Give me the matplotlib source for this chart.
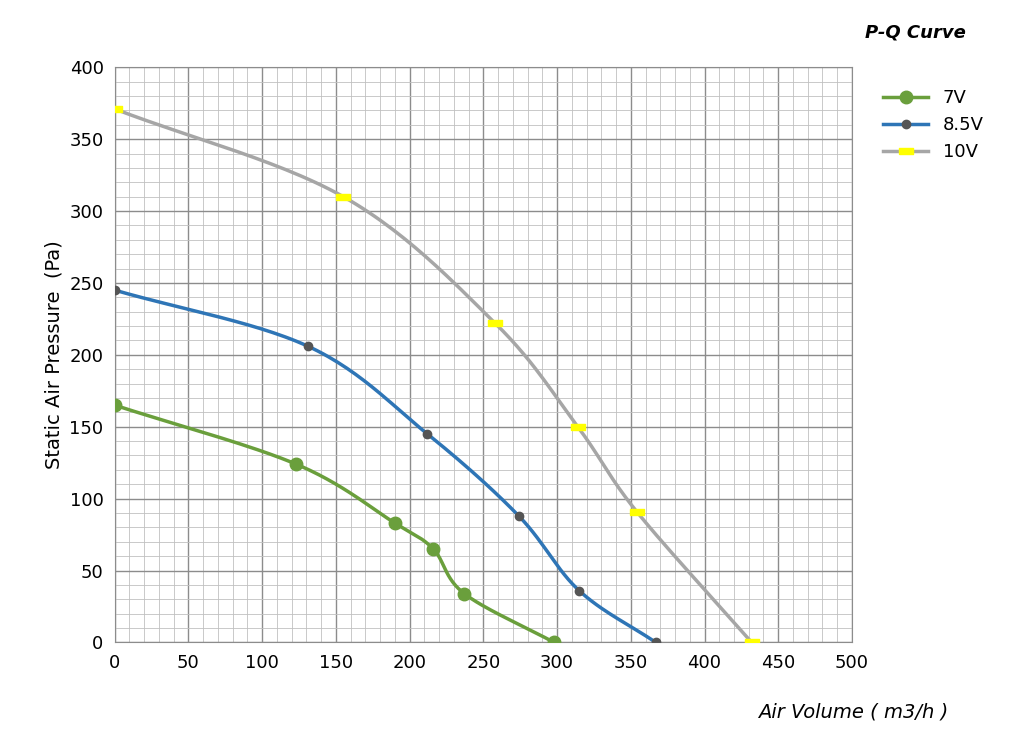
import numpy as np
import matplotlib
matplotlib.use('Agg')
import matplotlib.pyplot as plt
from matplotlib.ticker import MultipleLocator

q7 = [0, 123, 190, 216, 237, 298]
p7 = [165, 124, 83, 65, 34, 0]
q85 = [0, 131, 212, 274, 315, 367]
p85 = [245, 206, 145, 88, 36, 0]
q10 = [0, 155, 258, 314, 354, 432]
p10 = [371, 310, 222, 150, 91, 0]

def smooth(x, y, n=30):
    # catmull-rom through the points
    pts = np.column_stack([x, y]).astype(float)
    pts = np.vstack([2*pts[0]-pts[1], pts, 2*pts[-1]-pts[-2]])
    out = []
    t = np.linspace(0, 1, n)[:, None]
    for i in range(1, len(pts)-2):
        p0, p1, p2, p3 = pts[i-1], pts[i], pts[i+1], pts[i+2]
        out.append(0.5*((2*p1) + (-p0+p2)*t + (2*p0-5*p1+4*p2-p3)*t**2
                        + (-p0+3*p1-3*p2+p3)*t**3))
    out = np.vstack(out)
    return out[:, 0], out[:, 1]

rect = [(-1.6, -0.7), (1.6, -0.7), (1.6, 0.7), (-1.6, 0.7), (-1.6, -0.7)]

fig = plt.figure(figsize=(10.24, 7.47), dpi=100)
ax = fig.add_axes([0.112, 0.14, 0.72, 0.77])

series = [(q7, p7, '7V', '#6a9f3c', dict(marker='o', ms=9, mfc='#6a9f3c', mec='#6a9f3c')),
          (q85, p85, '8.5V', '#2e75b6', dict(marker='o', ms=6, mfc='#555555', mec='#555555')),
          (q10, p10, '10V', '#a6a6a6', dict(marker=rect, ms=10, mfc='#ffff00', mec='#ffff00'))]
for x, y, lab, c, mk in series:
    sx, sy = smooth(x, y)
    ax.plot(sx, sy, color=c, lw=2.5, zorder=3)
    ax.plot(x, y, ls='none', zorder=4, **mk)
    ax.plot([], [], color=c, lw=2.5, label=lab, **mk)

ax.set_xlim(0, 500)
ax.set_ylim(0, 400)
ax.xaxis.set_major_locator(MultipleLocator(50))
ax.yaxis.set_major_locator(MultipleLocator(50))
ax.xaxis.set_minor_locator(MultipleLocator(10))
ax.yaxis.set_minor_locator(MultipleLocator(10))
ax.grid(which='major', color='#8c8c8c', lw=1.0)
ax.grid(which='minor', color='#c0c0c0', lw=0.6)
ax.tick_params(which='both', length=0, labelsize=13, pad=8)
for s in ax.spines.values():
    s.set_color('#8c8c8c')

ax.set_ylabel('Static Air Pressure  (Pa)', fontsize=14)
fig.text(0.74, 0.04, 'Air Volume ( m3/h )', fontsize=14, style='italic')
fig.text(0.845, 0.95, 'P-Q Curve', fontsize=13, style='italic', weight='bold')
ax.legend(loc='upper left', bbox_to_anchor=(1.02, 0.99), frameon=False,
          fontsize=13, handlelength=2.5)

fig.savefig('out.png', dpi=100)
